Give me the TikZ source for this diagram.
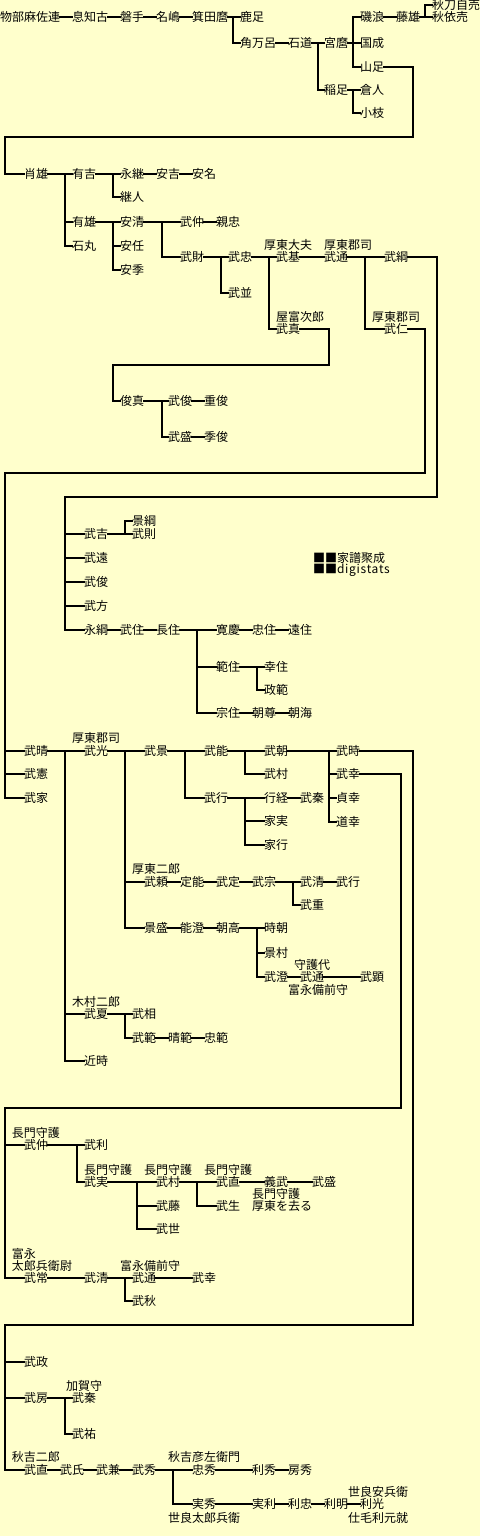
\documentclass[tikz,border=0pt]{standalone}
\usepackage{fontspec}
\newfontfamily\jpf{Noto Sans CJK JP}
\newfontfamily\jplatf[LetterSpace=6]{Noto Sans CJK JP}
\definecolor{bgyellow}{HTML}{FFFFCC}
\newcommand\mkN[4]{\node[pn] (#1) at (#2,#3) {#4};}
\newcommand\mkH[2]{\draw[ln] (#1.east) -- (#2.west);}
\newcommand\mkV[3]{\draw[ln] ([xshift=-#1pt]#2.west) |- (#3.west);}
\begin{document}
\begin{tikzpicture}[x=1pt,y=-1pt,
  pn/.style={anchor=west,inner sep=0pt,outer sep=0pt,font=\jpf\fontsize{12}{12}\selectfont,text height=10.56pt,text depth=1.44pt},
  ln/.style={line width=2pt,line cap=rect,line join=miter,black}]
\useasboundingbox (0,0) rectangle (480,1536);
\fill[bgyellow] (0,0) rectangle (480,1536);
% ---- top
\mkN{a1}{0}{17}{物部麻佐連}
\mkN{a2}{72}{17}{息知古}
\mkN{a3}{120}{17}{磐手}
\mkN{a4}{156}{17}{名嶋}
\mkN{a5}{192}{17}{箕田麿}
\mkN{a6}{240}{17}{鹿足}
\mkN{a7}{240}{43}{角万呂}
\mkN{a8}{288}{43}{石道}
\mkN{a9}{324}{43}{宮麿}
\mkN{a10}{324}{90}{稲足}
\mkN{a11}{360}{17}{磯浪}
\mkN{a12}{360}{43}{国成}
\mkN{a13}{360}{67}{山足}
\mkN{a14}{396}{17}{藤雄}
\mkN{a15}{432}{5}{秋刀自売}
\mkN{a16}{432}{17}{秋依売}
\mkN{a17}{360}{90}{倉人}
\mkN{a18}{360}{113}{小枝}
\mkH{a1}{a2}\mkH{a2}{a3}\mkH{a3}{a4}\mkH{a4}{a5}\mkH{a5}{a6}
\mkV{7}{a6}{a7}
\mkH{a7}{a8}\mkH{a8}{a9}\mkV{6}{a9}{a10}
\mkH{a9}{a12}\mkV{7}{a12}{a11}\mkV{7}{a12}{a13}
\mkH{a11}{a14}\mkH{a14}{a16}\mkV{7}{a16}{a15}
\mkH{a10}{a17}\mkV{7}{a17}{a18}
% ---- second block
\mkN{b1}{24}{174}{肖雄}
\mkN{b2}{72}{174}{有吉}
\mkN{b3}{72}{222}{有雄}
\mkN{b4}{72}{246}{石丸}
\mkN{b5}{120}{174}{永継}
\mkN{b6}{120}{197}{継人}
\mkN{b7}{156}{174}{安吉}
\mkN{b8}{192}{174}{安名}
\mkN{b9}{120}{222}{安清}
\mkN{b10}{120}{246}{安任}
\mkN{b11}{120}{270}{安季}
\mkN{b12}{180}{222}{武仲}
\mkN{b13}{216}{222}{親忠}
\mkN{b14}{180}{257}{武財}
\mkN{b15}{228}{257}{武忠}
\mkN{b16}{228}{293}{武並}
\mkN{b17}{276}{257}{武基}
\mkN{b17l}{264}{245}{厚東大夫}
\mkN{b18}{276}{329}{武真}
\mkN{b18l}{276}{317}{屋富次郎}
\mkN{b19}{324}{257}{武通}
\mkN{b19l}{324}{245}{厚東郡司}
\mkN{b20}{384}{257}{武綱}
\mkN{b21}{384}{329}{武仁}
\mkN{b21l}{372}{317}{厚東郡司}
\coordinate (k1) at (413,137);
\coordinate (k2) at (5,137);
\draw[ln] (a13.east) -| (k1) -- (k2) |- (b1.west);
\mkH{b1}{b2}\mkV{7}{b2}{b3}\mkV{7}{b2}{b4}
\mkH{b2}{b5}\mkV{7}{b5}{b6}\mkH{b5}{b7}\mkH{b7}{b8}
\mkH{b3}{b9}\mkV{7}{b9}{b10}\mkV{7}{b9}{b11}
\mkH{b9}{b12}\mkV{18}{b12}{b14}\mkH{b12}{b13}
\mkH{b14}{b15}\mkV{7}{b15}{b16}
\mkH{b15}{b17}\mkV{7}{b17}{b18}
\mkH{b17}{b19}\mkH{b19}{b20}\mkV{19}{b20}{b21}
% ---- toshizane
\mkN{c1}{120}{401}{俊真}
\mkN{c2}{168}{401}{武俊}
\mkN{c3}{204}{401}{重俊}
\mkN{c4}{168}{437}{武盛}
\mkN{c5}{204}{437}{季俊}
\coordinate (k5) at (329,365);
\coordinate (k6) at (113,365);
\draw[ln] (b18.east) -| (k5) -- (k6) |- (c1.west);
\mkH{c1}{c2}\mkV{6}{c2}{c4}\mkH{c2}{c3}\mkH{c4}{c5}
% ---- taketsuna children
\mkN{d1}{84}{534}{武吉}
\mkN{d2}{132}{521}{景綱}
\mkN{d3}{132}{534}{武則}
\mkN{d4}{84}{558}{武遠}
\mkN{d5}{84}{582}{武俊}
\mkN{d6}{84}{606}{武方}
\mkN{d7}{84}{630}{永綱}
\mkN{d8}{120}{630}{武住}
\mkN{d9}{156}{630}{長住}
\mkN{d10}{216}{630}{寛慶}
\mkN{d11}{252}{630}{忠住}
\mkN{d12}{288}{630}{遠住}
\mkN{d13}{216}{667}{範住}
\mkN{d14}{264}{667}{幸住}
\mkN{d15}{264}{690}{政範}
\mkN{d16}{216}{713}{宗住}
\mkN{d17}{252}{713}{朝尊}
\mkN{d18}{288}{713}{朝海}
\coordinate (k3) at (437,497);
\coordinate (k4) at (65,497);
\draw[ln] (b20.east) -| (k3) -- (k4) |- (d7.west);
\draw[ln] (k4) |- (d1.west);
\draw[ln] (k4) |- (d4.west);
\draw[ln] (k4) |- (d5.west);
\draw[ln] (k4) |- (d6.west);
\mkH{d1}{d3}\mkV{7}{d3}{d2}
\mkH{d7}{d8}\mkH{d8}{d9}\mkH{d9}{d10}\mkV{19}{d10}{d13}\mkV{19}{d10}{d16}
\mkH{d10}{d11}\mkH{d11}{d12}
\mkH{d13}{d14}\mkV{7}{d14}{d15}
\mkH{d16}{d17}\mkH{d17}{d18}
% ---- mark
\node[pn] (w1) at (313,558) {■■家譜聚成};
\node[pn] (w2) at (313,569) {■■{\jplatf\fontsize{12}{12}\selectfont digistats}};
% ---- takehito children
\mkN{e1}{24}{751}{武晴}
\mkN{e2}{24}{774}{武憲}
\mkN{e3}{24}{798}{武家}
\mkN{e4}{84}{751}{武光}
\mkN{e4l}{72}{738}{厚東郡司}
\mkN{e5}{144}{751}{武景}
\mkN{e6}{204}{751}{武能}
\mkN{e7}{264}{751}{武朝}
\mkN{e8}{336}{751}{武時}
\mkN{e9}{264}{774}{武村}
\mkN{e10}{336}{774}{武幸}
\mkN{e11}{336}{798}{貞幸}
\mkN{e12}{336}{822}{道幸}
\mkN{e13}{204}{798}{武行}
\mkN{e14}{264}{798}{行経}
\mkN{e15}{300}{798}{武秦}
\mkN{e16}{264}{821}{家実}
\mkN{e17}{264}{845}{家行}
\mkN{e18}{144}{882}{武頼}
\mkN{e18l}{132}{869}{厚東二郎}
\mkN{e19}{180}{882}{定能}
\mkN{e20}{216}{882}{武定}
\mkN{e21}{252}{882}{武宗}
\mkN{e22}{300}{882}{武清}
\mkN{e23}{336}{882}{武行}
\mkN{e24}{300}{905}{武重}
\mkN{e25}{144}{928}{景盛}
\mkN{e26}{180}{928}{能澄}
\mkN{e27}{216}{928}{朝高}
\mkN{e28}{264}{928}{時朝}
\mkN{e29}{264}{953}{景村}
\mkN{e30}{264}{977}{武澄}
\mkN{e31}{300}{977}{武通}
\mkN{e31a}{294}{965}{守護代}
\mkN{e31b}{288}{990}{富永備前守}
\mkN{e32}{360}{977}{武顕}
\mkN{e33}{84}{1014}{武夏}
\mkN{e33l}{72}{1002}{木村二郎}
\mkN{e34}{132}{1014}{武相}
\mkN{e35}{132}{1038}{武範}
\mkN{e36}{168}{1038}{晴範}
\mkN{e37}{204}{1038}{忠範}
\mkN{e38}{84}{1061}{近時}
\coordinate (k7) at (425,473);
\coordinate (k8) at (5,473);
\draw[ln] (b21.east) -| (k7) -- (k8) |- (e3.west);
\draw[ln] (k8) |- (e1.west);
\draw[ln] (k8) |- (e2.west);
\mkH{e1}{e4}\mkV{19}{e4}{e33}\mkV{19}{e4}{e38}
\mkH{e4}{e5}\mkV{19}{e5}{e18}\mkV{19}{e5}{e25}
\mkH{e5}{e6}\mkV{19}{e6}{e13}
\mkH{e6}{e7}\mkV{19}{e7}{e9}
\mkH{e7}{e8}\mkV{7}{e8}{e10}\mkV{7}{e8}{e11}\mkV{7}{e8}{e12}
\mkH{e13}{e14}\mkV{19}{e14}{e16}\mkV{19}{e14}{e17}
\mkH{e14}{e15}
\mkH{e18}{e19}\mkH{e19}{e20}\mkH{e20}{e21}\mkH{e21}{e22}\mkV{7}{e22}{e24}\mkH{e22}{e23}
\mkH{e25}{e26}\mkH{e26}{e27}\mkH{e27}{e28}\mkV{7}{e28}{e29}\mkV{7}{e28}{e30}
\mkH{e30}{e31}\mkH{e31}{e32}
\mkH{e33}{e34}\mkV{7}{e34}{e35}\mkH{e35}{e36}\mkH{e36}{e37}
% ---- takeyuki children
\mkN{f1}{24}{1145}{武仲}
\mkN{f1l}{12}{1133}{長門守護}
\mkN{f2}{84}{1145}{武利}
\mkN{f3}{84}{1182}{武実}
\mkN{f3l}{84}{1170}{長門守護}
\mkN{f4}{156}{1182}{武村}
\mkN{f4l}{144}{1170}{長門守護}
\mkN{f5}{156}{1206}{武藤}
\mkN{f6}{156}{1229}{武世}
\mkN{f7}{216}{1182}{武直}
\mkN{f7l}{204}{1170}{長門守護}
\mkN{f8}{216}{1206}{武生}
\mkN{f9}{264}{1182}{義武}
\mkN{f9a}{252}{1194}{長門守護}
\mkN{f9b}{252}{1206}{厚東を去る}
\mkN{f10}{312}{1182}{武盛}
\mkN{f11}{24}{1278}{武常}
\mkN{f11a}{12}{1254}{富永}
\mkN{f11b}{12}{1266}{太郎兵衛尉}
\mkN{f12}{84}{1278}{武清}
\mkN{f13}{132}{1278}{武通}
\mkN{f13l}{120}{1266}{富永備前守}
\mkN{f14}{192}{1278}{武幸}
\mkN{f15}{132}{1301}{武秋}
\coordinate (k9) at (401,1108);
\coordinate (k10) at (5,1108);
\draw[ln] (e10.east) -| (k9) -- (k10) |- (f11.west);
\draw[ln] (k10) |- (f1.west);
\mkH{f1}{f2}\mkV{7}{f2}{f3}
\mkH{f3}{f4}\mkV{19}{f4}{f5}\mkV{19}{f4}{f6}
\mkH{f4}{f7}\mkV{19}{f7}{f8}
\mkH{f7}{f9}\mkH{f9}{f10}
\mkH{f11}{f12}\mkH{f12}{f13}\mkV{7}{f13}{f15}\mkH{f13}{f14}
% ---- taketoki children
\mkN{g1}{24}{1362}{武政}
\mkN{g2}{24}{1398}{武房}
\mkN{g3}{72}{1398}{武秦}
\mkN{g3l}{66}{1386}{加賀守}
\mkN{g4}{72}{1434}{武祐}
\mkN{g5}{24}{1470}{武直}
\mkN{g5l}{12}{1457}{秋吉二郎}
\mkN{g6}{60}{1470}{武氏}
\mkN{g7}{96}{1470}{武兼}
\mkN{g8}{132}{1470}{武秀}
\mkN{g9}{192}{1470}{忠秀}
\mkN{g9l}{168}{1457}{秋吉彦左衛門}
\mkN{g10}{252}{1470}{利秀}
\mkN{g11}{288}{1470}{房秀}
\mkN{g12}{192}{1504}{実秀}
\mkN{g12l}{168}{1518}{世良太郎兵衛}
\mkN{g13}{252}{1504}{実利}
\mkN{g14}{288}{1504}{利忠}
\mkN{g15}{324}{1504}{利明}
\mkN{g16}{360}{1504}{利光}
\mkN{g16a}{348}{1492}{世良安兵衛}
\mkN{g16b}{348}{1518}{仕毛利元就}
\coordinate (k11) at (413,1325);
\coordinate (k12) at (5,1325);
\draw[ln] (e8.east) -| (k11) -- (k12) |- (g5.west);
\draw[ln] (k12) |- (g1.west);
\draw[ln] (k12) |- (g2.west);
\mkH{g2}{g3}\mkV{7}{g3}{g4}
\mkH{g5}{g6}\mkH{g6}{g7}\mkH{g7}{g8}\mkH{g8}{g9}\mkV{19}{g9}{g12}
\mkH{g9}{g10}\mkH{g10}{g11}
\mkH{g12}{g13}\mkH{g13}{g14}\mkH{g14}{g15}\mkH{g15}{g16}
\end{tikzpicture}
\end{document}
